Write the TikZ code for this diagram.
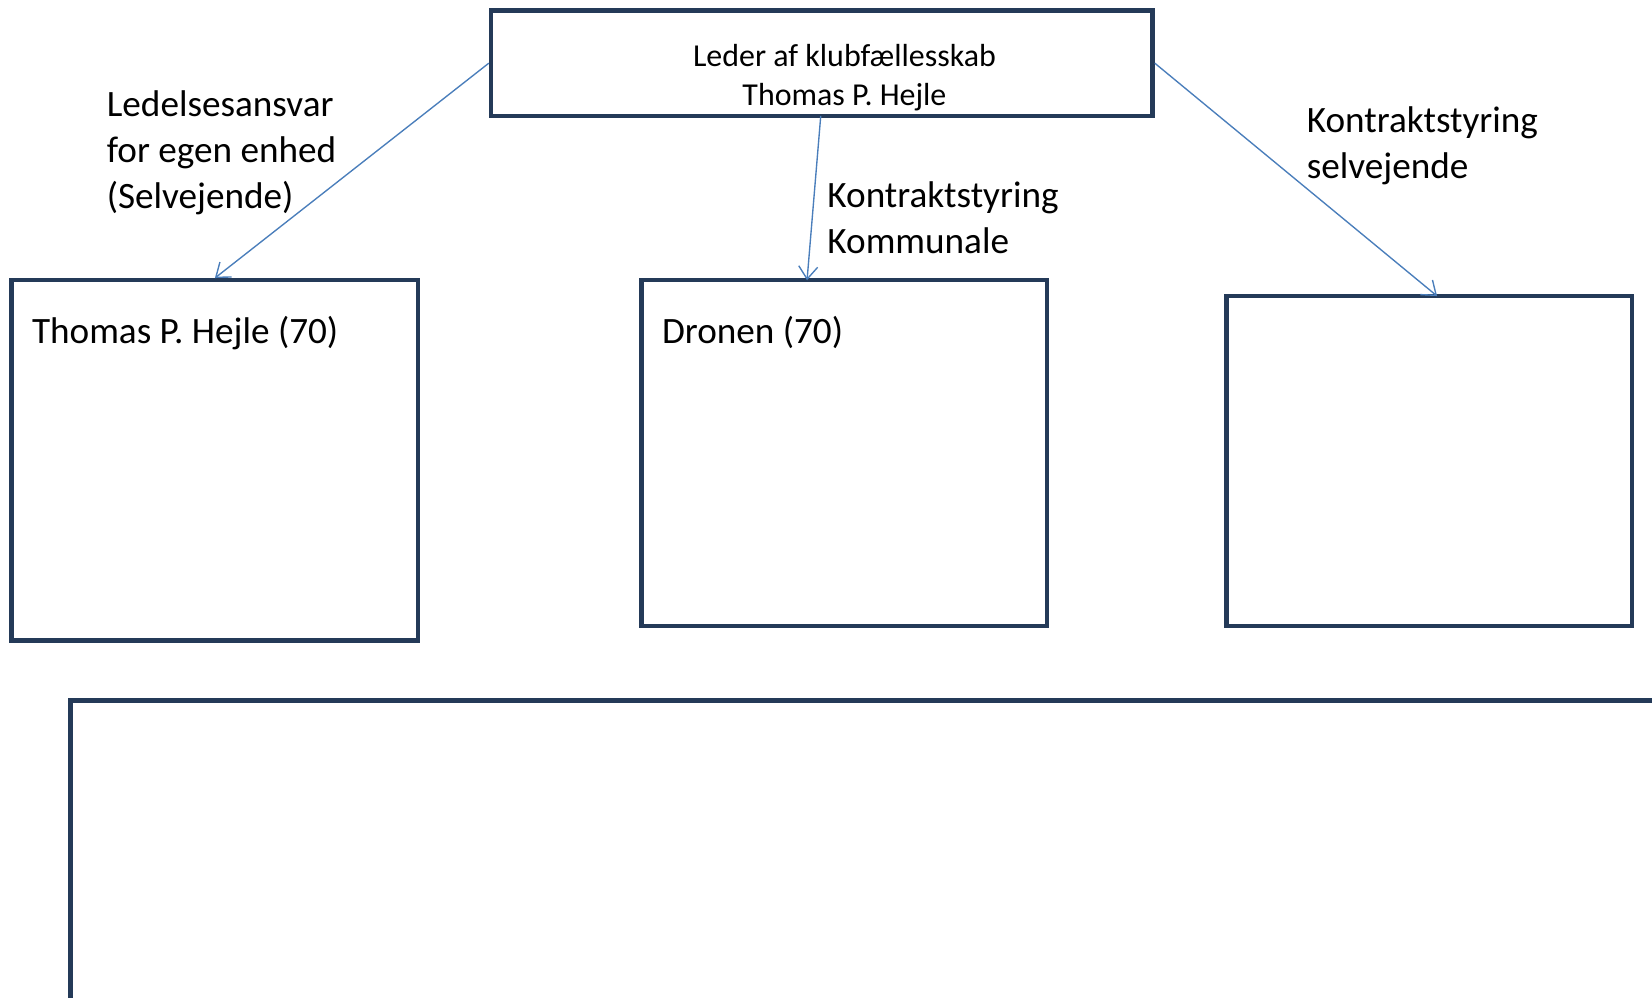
\documentclass[tikz,border=0pt]{standalone}
\usepackage{fontspec}
\setmainfont{Carlito}
\usetikzlibrary{arrows.meta,fit}
\definecolor{boxc}{RGB}{36,58,88}
\definecolor{arrc}{RGB}{74,126,187}
\begin{document}
\begin{tikzpicture}[x=0.5pt,y=-0.5pt,
  box/.style={draw=boxc,line width=2.1pt,inner sep=0pt,rectangle},
  arr/.style={draw=arrc,line width=0.65pt,-{Straight Barb[length=6pt,width=9pt,line width=0.65pt]}},
  txt/.style={inner sep=0pt,anchor=base west,font=\fontsize{17.65}{21.75}\selectfont,align=left},
  toptxt/.style={inner sep=0pt,font=\fontsize{15.15}{18.5}\selectfont,align=center}]
\useasboundingbox (0,0) rectangle (1568,947);
\clip (0,0) rectangle (1568,947);
\node[box,fit={(466,10) (1094,110)}] (top) {};
\node[box,fit={(11,266) (397,608)}] (b1) {};
\node[box,fit={(609,266) (994,594)}] (b2) {};
\node[box,fit={(1164,281) (1549,594)}] (b3) {};
\node[box,fit={(67,665) (1700,1100)}] (b4) {};
\node[toptxt,anchor=base] (t1) at (801.5,63) {Leder af klubfællesskab};
\node[toptxt,anchor=base] (t2) at (801.5,100) {Thomas P. Hejle};
\node[txt] (l1) at (101,111) {Ledelsesansvar};
\node[txt] (l2) at (101,154) {for egen enhed};
\node[txt] (l3) at (101,198) {(Selvejende)};
\node[txt] (k1) at (785,197) {Kontraktstyring};
\node[txt] (k2) at (785,241) {Kommunale};
\node[txt] (s1) at (1240,126) {Kontraktstyring};
\node[txt] (s2) at (1240,169) {selvejende};
\node[txt] (n1) at (30,326) {Thomas P. Hejle (70)};
\node[txt] (n2) at (628,326) {Dronen (70)};
\coordinate (a2s) at (779,110);
\coordinate (a2e) at (766,266);
\coordinate (a3e) at (1364,281);
\draw[arr] (top.west) -- (b1.north);
\draw[arr] (a2s) -- (a2e);
\draw[arr] (top.east) -- (a3e);
\end{tikzpicture}
\end{document}
